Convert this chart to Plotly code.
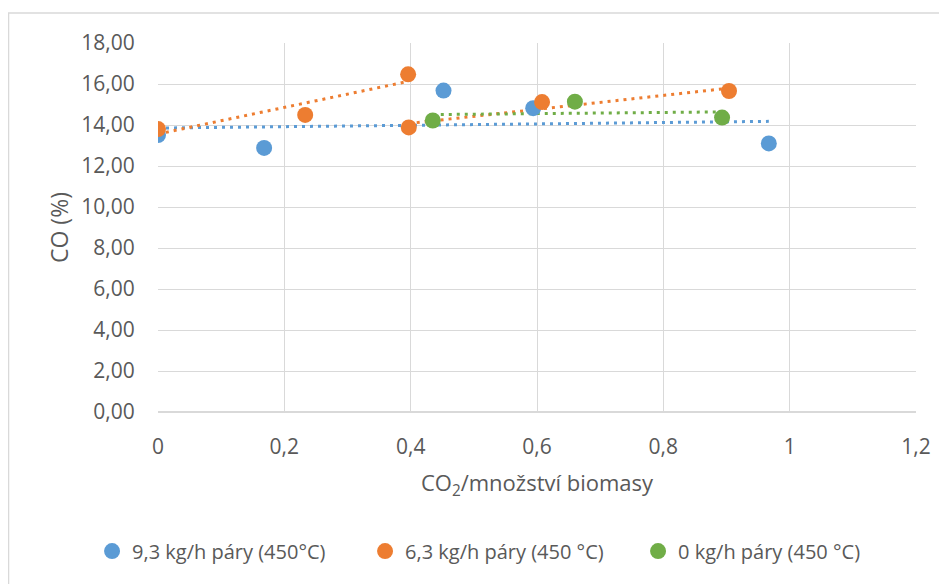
import numpy as np
import plotly.graph_objects as go

# Data
blue_x = [0.0, 0.168, 0.452, 0.594, 0.967]
blue_y = [13.51, 12.88, 15.68, 14.82, 13.10]

orange_x = [0.0, 0.233, 0.396, 0.397, 0.608, 0.904]
orange_y = [13.80, 14.49, 16.47, 13.88, 15.12, 15.66]
orange_group = [0, 0, 0, 1, 1, 1]

green_x = [0.435, 0.660, 0.893]
green_y = [14.22, 15.14, 14.36]

names = ["9,3 kg/h páry (450°C)", "6,3 kg/h páry (450 °C)", "0 kg/h páry (450 °C)"]
colors = ["#5B9BD5", "#ED7D31", "#70AD47"]

x_ticks = [0, 0.2, 0.4, 0.6, 0.8, 1, 1.2]
y_ticks = [0, 2, 4, 6, 8, 10, 12, 14, 16, 18]

fig = go.Figure()


def trend(xs, ys, color):
    xs = np.array(xs)
    ys = np.array(ys)
    k, q = np.polyfit(xs, ys, 1)
    xx = np.array([xs.min(), xs.max()])
    fig.add_trace(go.Scatter(x=xx, y=k * xx + q, mode="lines",
                             line=dict(color=color, width=3, dash="3px,5px"),
                             showlegend=False, hoverinfo="skip"))


trend(blue_x, blue_y, colors[0])
for g in sorted(set(orange_group)):
    gx = [x for x, gg in zip(orange_x, orange_group) if gg == g]
    gy = [y for y, gg in zip(orange_y, orange_group) if gg == g]
    trend(gx, gy, colors[1])
trend(green_x, green_y, colors[2])

for xs, ys, n, c in zip([blue_x, orange_x, green_x], [blue_y, orange_y, green_y], names, colors):
    fig.add_trace(go.Scatter(x=xs, y=ys, mode="markers", name=n,
                             marker=dict(color=c, size=16, line=dict(width=0))))

font = "Open Sans, Noto Sans, sans-serif"
grey = "#595959"
fig.update_layout(
    width=947, height=584,
    margin=dict(l=150, r=39, t=35, b=180, autoexpand=False),
    paper_bgcolor="white", plot_bgcolor="white",
    separators=", ",
    font=dict(family=font, size=20, color=grey),
    showlegend=True,
    legend=dict(orientation="h", x=-0.087, xanchor="left", y=-0.377, yanchor="middle",
                font=dict(size=20, color=grey),
                traceorder="normal", entrywidth=228, entrywidthmode="pixels"),
    shapes=[dict(type="rect", xref="paper", yref="paper",
                 x0=-0.1972, x1=1.06, y0=-0.55, y1=1.0813,
                 line=dict(color="#D9D9D9", width=1.5), fillcolor="rgba(0,0,0,0)")],
)
fig.update_xaxes(range=[0, 1.2], tickvals=x_ticks, tickformat="~g",
                 showgrid=True, gridcolor="#D9D9D9", gridwidth=1.3,
                 zeroline=False, showline=False, ticks="outside", ticklen=16, tickcolor="white",
                 tickfont=dict(size=21, color=grey),
                 title=dict(text="CO<sub>2</sub>/množství biomasy", font=dict(size=22, color=grey), standoff=16))
fig.update_yaxes(range=[0, 18], tickvals=y_ticks, tickformat=".2f",
                 showgrid=True, gridcolor="#D9D9D9", gridwidth=1.3,
                 zeroline=True, zerolinecolor="#D9D9D9", zerolinewidth=1.5,
                 showline=False, ticks="outside", ticklen=18, tickcolor="white",
                 tickfont=dict(size=21, color=grey),
                 title=dict(text="CO (%)", font=dict(size=23, color=grey), standoff=6))

fig.write_html("out.html")
